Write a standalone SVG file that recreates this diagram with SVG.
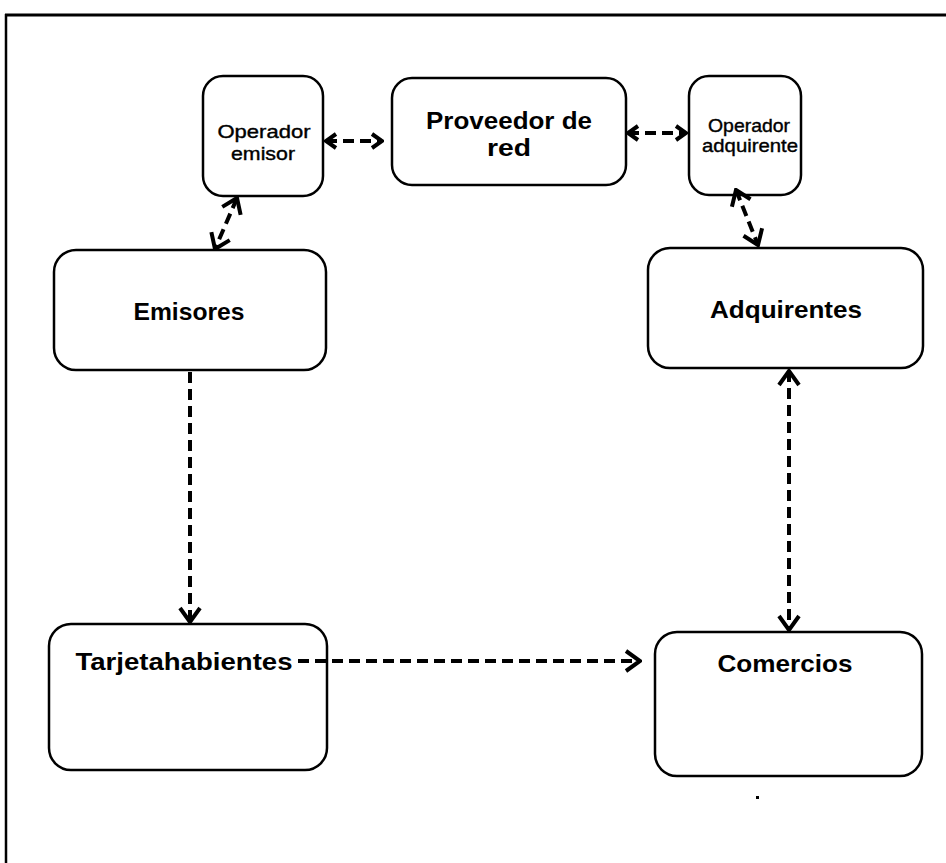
<svg xmlns="http://www.w3.org/2000/svg" width="946" height="863" viewBox="0 0 946 863">
<defs>
<style>
.box{fill:#fff;stroke:#000;stroke-width:2.5}
.t{font-family:"Liberation Sans",Arial,sans-serif;fill:#000;text-anchor:middle}
.b{font-weight:bold;font-size:24px}
.r{font-size:19px;stroke:#000;stroke-width:0.4}
.c{fill:none;stroke:#000;stroke-width:4;stroke-dasharray:11 6}
</style>
<marker id="ah" viewBox="0 0 18 24" refX="16" refY="12" markerWidth="18" markerHeight="24" markerUnits="userSpaceOnUse" orient="auto-start-reverse">
<path d="M2,2 L16,12 L2,22" fill="none" stroke="#000" stroke-width="4" stroke-linejoin="miter"/>
</marker>
<marker id="as" viewBox="0 0 14 18" refX="12" refY="9" markerWidth="14" markerHeight="18" markerUnits="userSpaceOnUse" orient="auto-start-reverse">
<path d="M2,2 L12,9 L2,16" fill="none" stroke="#000" stroke-width="4" stroke-linejoin="miter"/>
</marker>
</defs>
<rect width="946" height="863" fill="#fff"/>
<g id="frame">
<line x1="5" y1="15" x2="946" y2="15" stroke="#000" stroke-width="3"/>
<line x1="6" y1="14" x2="6" y2="863" stroke="#000" stroke-width="2.5"/>
</g>
<g id="operador-emisor">
<rect class="box" x="203" y="76" width="120" height="120" rx="20"/>
<text class="t r" x="264" y="138" textLength="93" lengthAdjust="spacingAndGlyphs">Operador</text>
<text class="t r" x="263" y="160" textLength="64" lengthAdjust="spacingAndGlyphs">emisor</text>
</g>
<g id="proveedor">
<rect class="box" x="392" y="78" width="234" height="107" rx="20"/>
<text class="t b" x="509" y="129" textLength="166" lengthAdjust="spacingAndGlyphs">Proveedor de</text>
<text class="t b" x="509" y="156" textLength="44" lengthAdjust="spacingAndGlyphs">red</text>
</g>
<g id="operador-adquirente">
<rect class="box" x="689" y="76" width="112" height="119" rx="20"/>
<text class="t r" x="749" y="132" font-size="17" textLength="82" lengthAdjust="spacingAndGlyphs">Operador</text>
<text class="t r" x="750" y="152" font-size="17" textLength="96" lengthAdjust="spacingAndGlyphs">adquirente</text>
</g>
<g id="emisores">
<rect class="box" x="54" y="250" width="272" height="120" rx="22"/>
<text class="t b" x="189" y="320" font-size="26" textLength="111" lengthAdjust="spacingAndGlyphs">Emisores</text>
</g>
<g id="adquirentes">
<rect class="box" x="648" y="248" width="275" height="120" rx="22"/>
<text class="t b" x="786" y="318" font-size="26" textLength="152" lengthAdjust="spacingAndGlyphs">Adquirentes</text>
</g>
<g id="tarjetahabientes">
<rect class="box" x="49" y="624" width="278" height="146" rx="22"/>
<text class="t b" x="184" y="670" font-size="26" textLength="217" lengthAdjust="spacingAndGlyphs">Tarjetahabientes</text>
</g>
<g id="comercios">
<rect class="box" x="655" y="632" width="267" height="144" rx="22"/>
<text class="t b" x="785" y="672" font-size="26" textLength="135" lengthAdjust="spacingAndGlyphs">Comercios</text>
</g>
<g id="connectors">
<line class="c" x1="326" y1="141" x2="382" y2="141" stroke-dasharray="7 5" marker-start="url(#as)" marker-end="url(#as)"/>
<line class="c" x1="628" y1="133" x2="686" y2="133" stroke-dasharray="7 5" marker-start="url(#as)" marker-end="url(#as)"/>
<line class="c" x1="237" y1="198" x2="215" y2="249" stroke-dasharray="8 5" marker-start="url(#ah)" marker-end="url(#ah)"/>
<line class="c" x1="736" y1="190" x2="758" y2="245" stroke-dasharray="8 5" marker-start="url(#ah)" marker-end="url(#ah)"/>
<line class="c" x1="190" y1="372" x2="190" y2="622" marker-end="url(#ah)"/>
<line class="c" x1="789" y1="371" x2="789" y2="630" marker-start="url(#ah)" marker-end="url(#ah)"/>
<line class="c" x1="298" y1="661" x2="640" y2="661" marker-end="url(#ah)"/>
</g>
<rect x="756" y="796" width="3" height="3" fill="#000"/>
</svg>
